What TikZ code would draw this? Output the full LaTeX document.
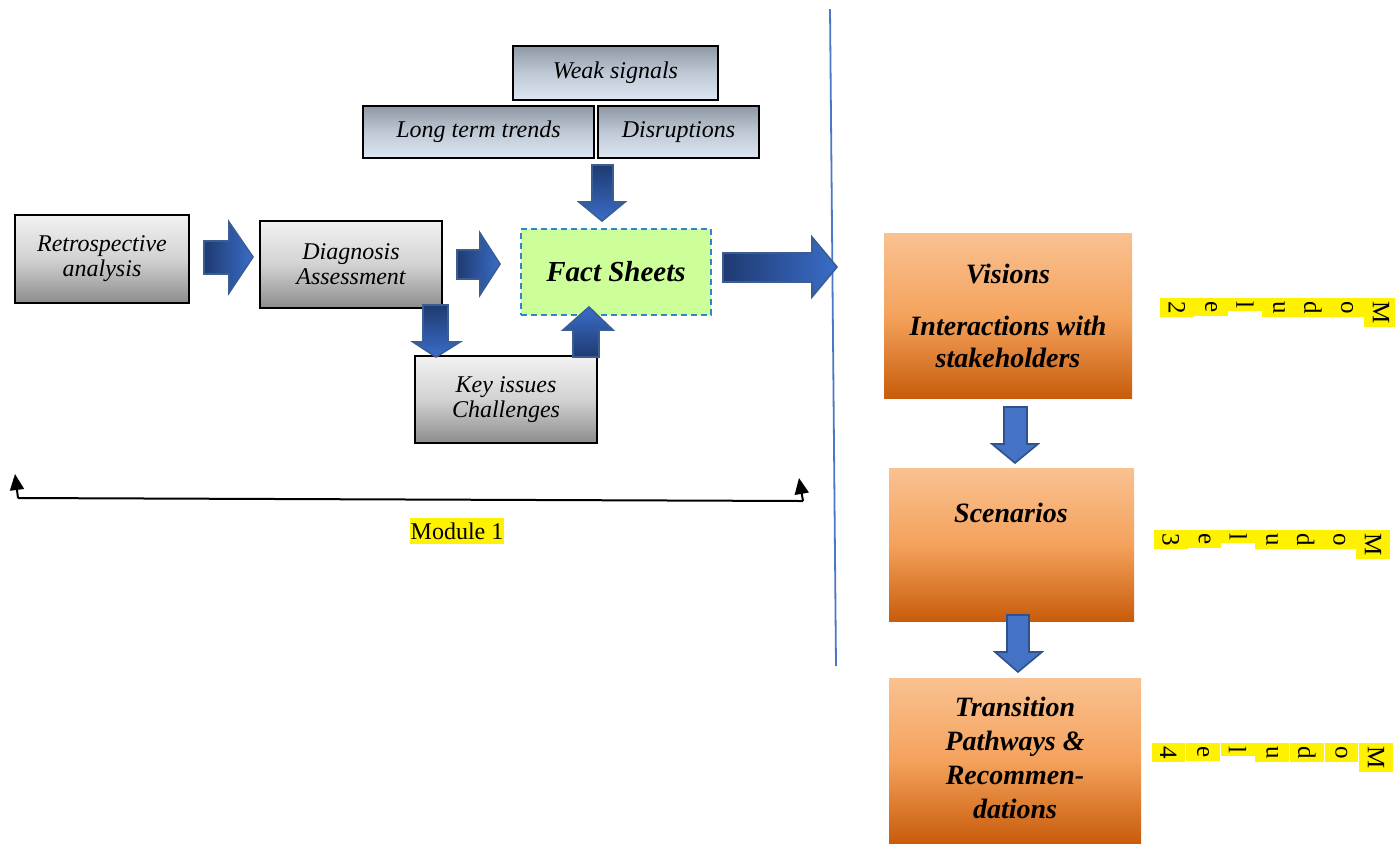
\documentclass[tikz,border=0pt]{standalone}
\usepackage{fontspec}
\setmainfont{Liberation Serif}[BoldFont={Liberation Serif Bold}, ItalicFont={Liberation Serif Italic}, BoldItalicFont={Liberation Serif Bold Italic}]
\usetikzlibrary{arrows.meta}
\definecolor{gtop}{HTML}{F2F2F2}
\definecolor{gmid}{HTML}{D2D2D2}
\definecolor{gbot}{HTML}{8C8C8C}
\definecolor{btop}{HTML}{8F99A6}
\definecolor{bmid}{HTML}{BFC9D6}
\definecolor{bbot}{HTML}{DDE7F3}
\definecolor{otop}{HTML}{F9C191}
\definecolor{omid}{HTML}{F4A25C}
\definecolor{obot}{HTML}{C85C0B}
\definecolor{adark}{HTML}{1F3A70}
\definecolor{abright}{HTML}{3A6DC9}
\definecolor{aline}{HTML}{3A5D92}
\definecolor{sblue}{HTML}{4472C4}
\definecolor{sline}{HTML}{2F528F}
\definecolor{factfill}{HTML}{CCFF99}
\definecolor{factline}{HTML}{2E86C8}
\definecolor{vline}{HTML}{4A78C2}
\begin{document}
\begin{tikzpicture}[x=0.5pt,y=-0.5pt,
  graybox/.style={draw=black, line width=1pt, top color=gtop, bottom color=gbot, middle color=gmid,
    align=center, inner sep=0pt, font=\fontsize{12}{12.5}\selectfont\itshape},
  bluebox/.style={draw=black, line width=1pt, top color=btop, bottom color=bbot, middle color=bmid,
    align=center, inner sep=0pt, font=\fontsize{12}{12.5}\selectfont\itshape},
  orangebox/.style={top color=otop, bottom color=obot, middle color=omid,
    align=center, inner sep=0pt, font=\fontsize{14}{16}\selectfont\bfseries\itshape},
  otext/.style={align=center, inner sep=0pt, font=\fontsize{14}{17}\selectfont\bfseries\itshape},
  harrow/.style={left color=adark, right color=abright, draw=aline, line width=0.8pt},
  darrow/.style={top color=adark, bottom color=abright, draw=aline, line width=0.8pt},
  uarrow/.style={bottom color=adark, top color=abright, draw=aline, line width=0.8pt},
  sarrow/.style={fill=sblue, draw=sline, line width=0.8pt},
  modletter/.style={rotate=-90, fill=yellow, inner xsep=1.5pt, inner ysep=0pt, minimum height=16.9pt,
    anchor=west, font=\fontsize{12.5}{12.5}\selectfont},
  bracket/.style={line width=1pt, black}
]
\useasboundingbox (0,0) rectangle (1395,843);

% vertical separator
\coordinate (vt) at (830,9);
\coordinate (vb) at (836,666);
\draw[vline, line width=0.9pt] (vt) -- (vb);

% gray boxes
\node[graybox, minimum width=87pt, minimum height=44pt] (retro) at (102,259) {Retrospective\\analysis};
\node[graybox, minimum width=91pt, minimum height=43.5pt] (diag) at (351,264.5) {Diagnosis\\Assessment};
\node[graybox, minimum width=91pt, minimum height=43.5pt] (key) at (506,399.5) {Key issues\\Challenges};

% top boxes
\node[bluebox, minimum width=102.5pt, minimum height=27pt] (weak) at (615.5,73) {Weak signals};
\node[bluebox, minimum width=115.5pt, minimum height=26pt] (trends) at (478.5,132) {Long term trends};
\node[bluebox, minimum width=80.5pt, minimum height=26pt] (disr) at (678.5,132) {Disruptions};

% fact sheets
\node[fill=factfill, draw=factline, line width=1pt, dash pattern=on 3pt off 2pt,
  minimum width=95pt, minimum height=43pt, inner sep=0pt,
  font=\fontsize{14.5}{16}\selectfont\bfseries\itshape] (fact) at (616,272) {Fact Sheets};

% orange boxes
\node[orangebox, minimum width=124pt, minimum height=82.5pt] (vis) at (1008,316)
  {Visions\\[10pt]Interactions with\\stakeholders};
\node[orangebox, minimum width=122.5pt, minimum height=76.5pt] (scen) at (1011.5,544.5) {};
\node[otext] (scent) at (1011,513) {Scenarios};
\node[orangebox, minimum width=126pt, minimum height=82.5pt] (trans) at (1015,760.5) {};
\node[otext] (transt) at (1015,758) {Transition\\Pathways \&\\Recommen-\\dations};

% block arrows
\shadedraw[harrow] (204,241) -- (229,241) -- (229,222) -- (253,257) -- (229,293) -- (229,274) -- (204,274) -- cycle;
\shadedraw[harrow] (457,250) -- (480,250) -- (480,233) -- (500,264) -- (480,295) -- (480,279) -- (457,279) -- cycle;
\shadedraw[darrow] (423,305) -- (448,305) -- (448,342) -- (460,342) -- (436,357) -- (413,342) -- (423,342) -- cycle;
\shadedraw[darrow] (592,165) -- (613,165) -- (613,202) -- (625,202) -- (602,221) -- (579,202) -- (592,202) -- cycle;
\shadedraw[uarrow] (573,357) -- (599,357) -- (599,330) -- (613,330) -- (589,307) -- (563,330) -- (573,330) -- cycle;
\shadedraw[harrow] (723,253) -- (812,253) -- (812,237) -- (837,267) -- (812,297) -- (812,282) -- (723,282) -- cycle;
\filldraw[sarrow] (1004,407) -- (1027,407) -- (1027,444) -- (1038,444) -- (1015,463) -- (992,444) -- (1004,444) -- cycle;
\filldraw[sarrow] (1007,615) -- (1029,615) -- (1029,652) -- (1042,652) -- (1018,672) -- (995,652) -- (1007,652) -- cycle;

% module 1 bracket
\coordinate (bl) at (18,498);
\coordinate (br) at (803,501);
\coordinate (blt) at (15,474);
\coordinate (brt) at (799,478);
\draw[bracket] (bl) -- (br);
\draw[bracket, -{Triangle[length=8pt,width=7pt]}] (bl) -- (blt);
\draw[bracket, -{Triangle[length=8pt,width=7pt]}] (br) -- (brt);
\node[fill=yellow, inner xsep=0.5pt, inner ysep=0pt, minimum height=13pt,
  font=\fontsize{12}{12}\selectfont] (mod1) at (457,531) {Module 1};

% modules 2-4 (stacked letters, rotated)
\foreach \ch [count=\i from 0] in {M,o,d,u,l,e,2}
  \node[modletter] (mtwo\i) at ({1381-34*\i},298) {\ch};
\foreach \ch [count=\i from 0] in {M,o,d,u,l,e,3}
  \node[modletter] (mthree\i) at ({1373-33.7*\i},530) {\ch};
\foreach \ch [count=\i from 0] in {M,o,d,u,l,e,4}
  \node[modletter] (mfour\i) at ({1376-34.6*\i},743) {\ch};
\end{tikzpicture}
\end{document}
